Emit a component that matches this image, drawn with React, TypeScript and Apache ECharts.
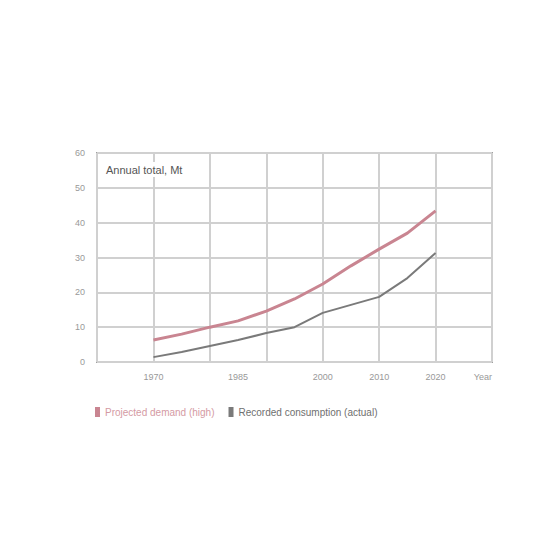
import { useEffect, useRef } from 'react';
import * as echarts from 'echarts';

// values (x in years, y in index units)
const years = [1970, 1975, 1980, 1985, 1990, 1995, 2000, 2005, 2010, 2015, 2020];
const projected = [6.3, 8.0, 10.0, 11.8, 14.6, 18.1, 22.4, 27.6, 32.4, 37.0, 43.4];
const recorded = [1.4, 2.9, 4.6, 6.3, 8.3, 10.0, 14.1, 16.4, 18.7, 24.1, 31.3];
const xLabelYears = [1970, 1985, 2000, 2010, 2020];
const seriesNames = ['Projected demand (high)', 'Recorded consumption (actual)'];
const seriesColors = ['#c98591', '#7a7a7a'];
const legendTextColors = ['#d49aa3', '#6f6f6f'];
const chartTitle = 'Annual total, Mt';

const App = () => {
  const containerRef = useRef<HTMLDivElement>(null);

  useEffect(() => {
    if (!containerRef.current) return;
    const chart = echarts.init(containerRef.current, null, { renderer: 'svg' });

    const font = 'Liberation Sans, Arial, sans-serif';
    const toPairs = (vals: number[]) => years.map((y, i) => [y, vals[i]]);

    const option: echarts.EChartsOption = {
      animation: false,
      backgroundColor: '#ffffff',
      textStyle: { fontFamily: font },
      title: {
        text: chartTitle,
        left: 103,
        top: 162,
        padding: [2, 3],
        backgroundColor: '#ffffff',
        textStyle: { color: '#555', fontSize: 11, fontWeight: 'normal', fontFamily: font },
      },
      legend: {
        left: 90,
        top: 402,
        icon: 'rect',
        itemWidth: 5,
        itemHeight: 10,
        itemGap: 14,
        data: seriesNames.map((name, i) => ({
          name,
          textStyle: { color: legendTextColors[i], fontSize: 10, fontFamily: font },
        })),
      },
      grid: {
        left: 97,
        right: 68,
        top: 153,
        bottom: 198,
        show: true,
        borderColor: '#9f9f9f',
        borderWidth: 2,
        containLabel: false,
      },
      xAxis: {
        type: 'value',
        min: 1960,
        max: 2030,
        interval: 10,
        axisLine: { show: false },
        axisTick: { show: false },
        axisLabel: {
          customValues: xLabelYears,
          color: '#999',
          fontSize: 9,
          margin: 10,
          formatter: (v: number) => String(v),
        },
        splitLine: { show: true, lineStyle: { color: '#d0d0d0', width: 2 } },
      },
      yAxis: {
        type: 'value',
        min: 0,
        max: 60,
        interval: 10,
        axisLine: { show: false },
        axisTick: { show: false },
        axisLabel: { color: '#999', fontSize: 9, margin: 12 },
        splitLine: { show: true, lineStyle: { color: '#d0d0d0', width: 2 } },
      },
      graphic: [
        {
          type: 'text',
          right: 68,
          top: 372,
          style: { text: 'Year', fill: '#999', fontSize: 9, fontFamily: font },
        },
      ],
      series: [
        {
          name: seriesNames[0],
          type: 'line',
          data: toPairs(projected),
          showSymbol: false,
          smooth: false,
          lineStyle: { color: seriesColors[0], width: 3 },
          itemStyle: { color: seriesColors[0] },
        },
        {
          name: seriesNames[1],
          type: 'line',
          data: toPairs(recorded),
          showSymbol: false,
          smooth: false,
          lineStyle: { color: seriesColors[1], width: 2 },
          itemStyle: { color: seriesColors[1] },
        },
      ],
    };

    chart.setOption(option);
    return () => chart.dispose();
  }, []);

  return (
    <div
      ref={containerRef}
      style={{ position: 'fixed', left: 0, top: 0, width: 560, height: 560 }}
    />
  );
};

export default App;
